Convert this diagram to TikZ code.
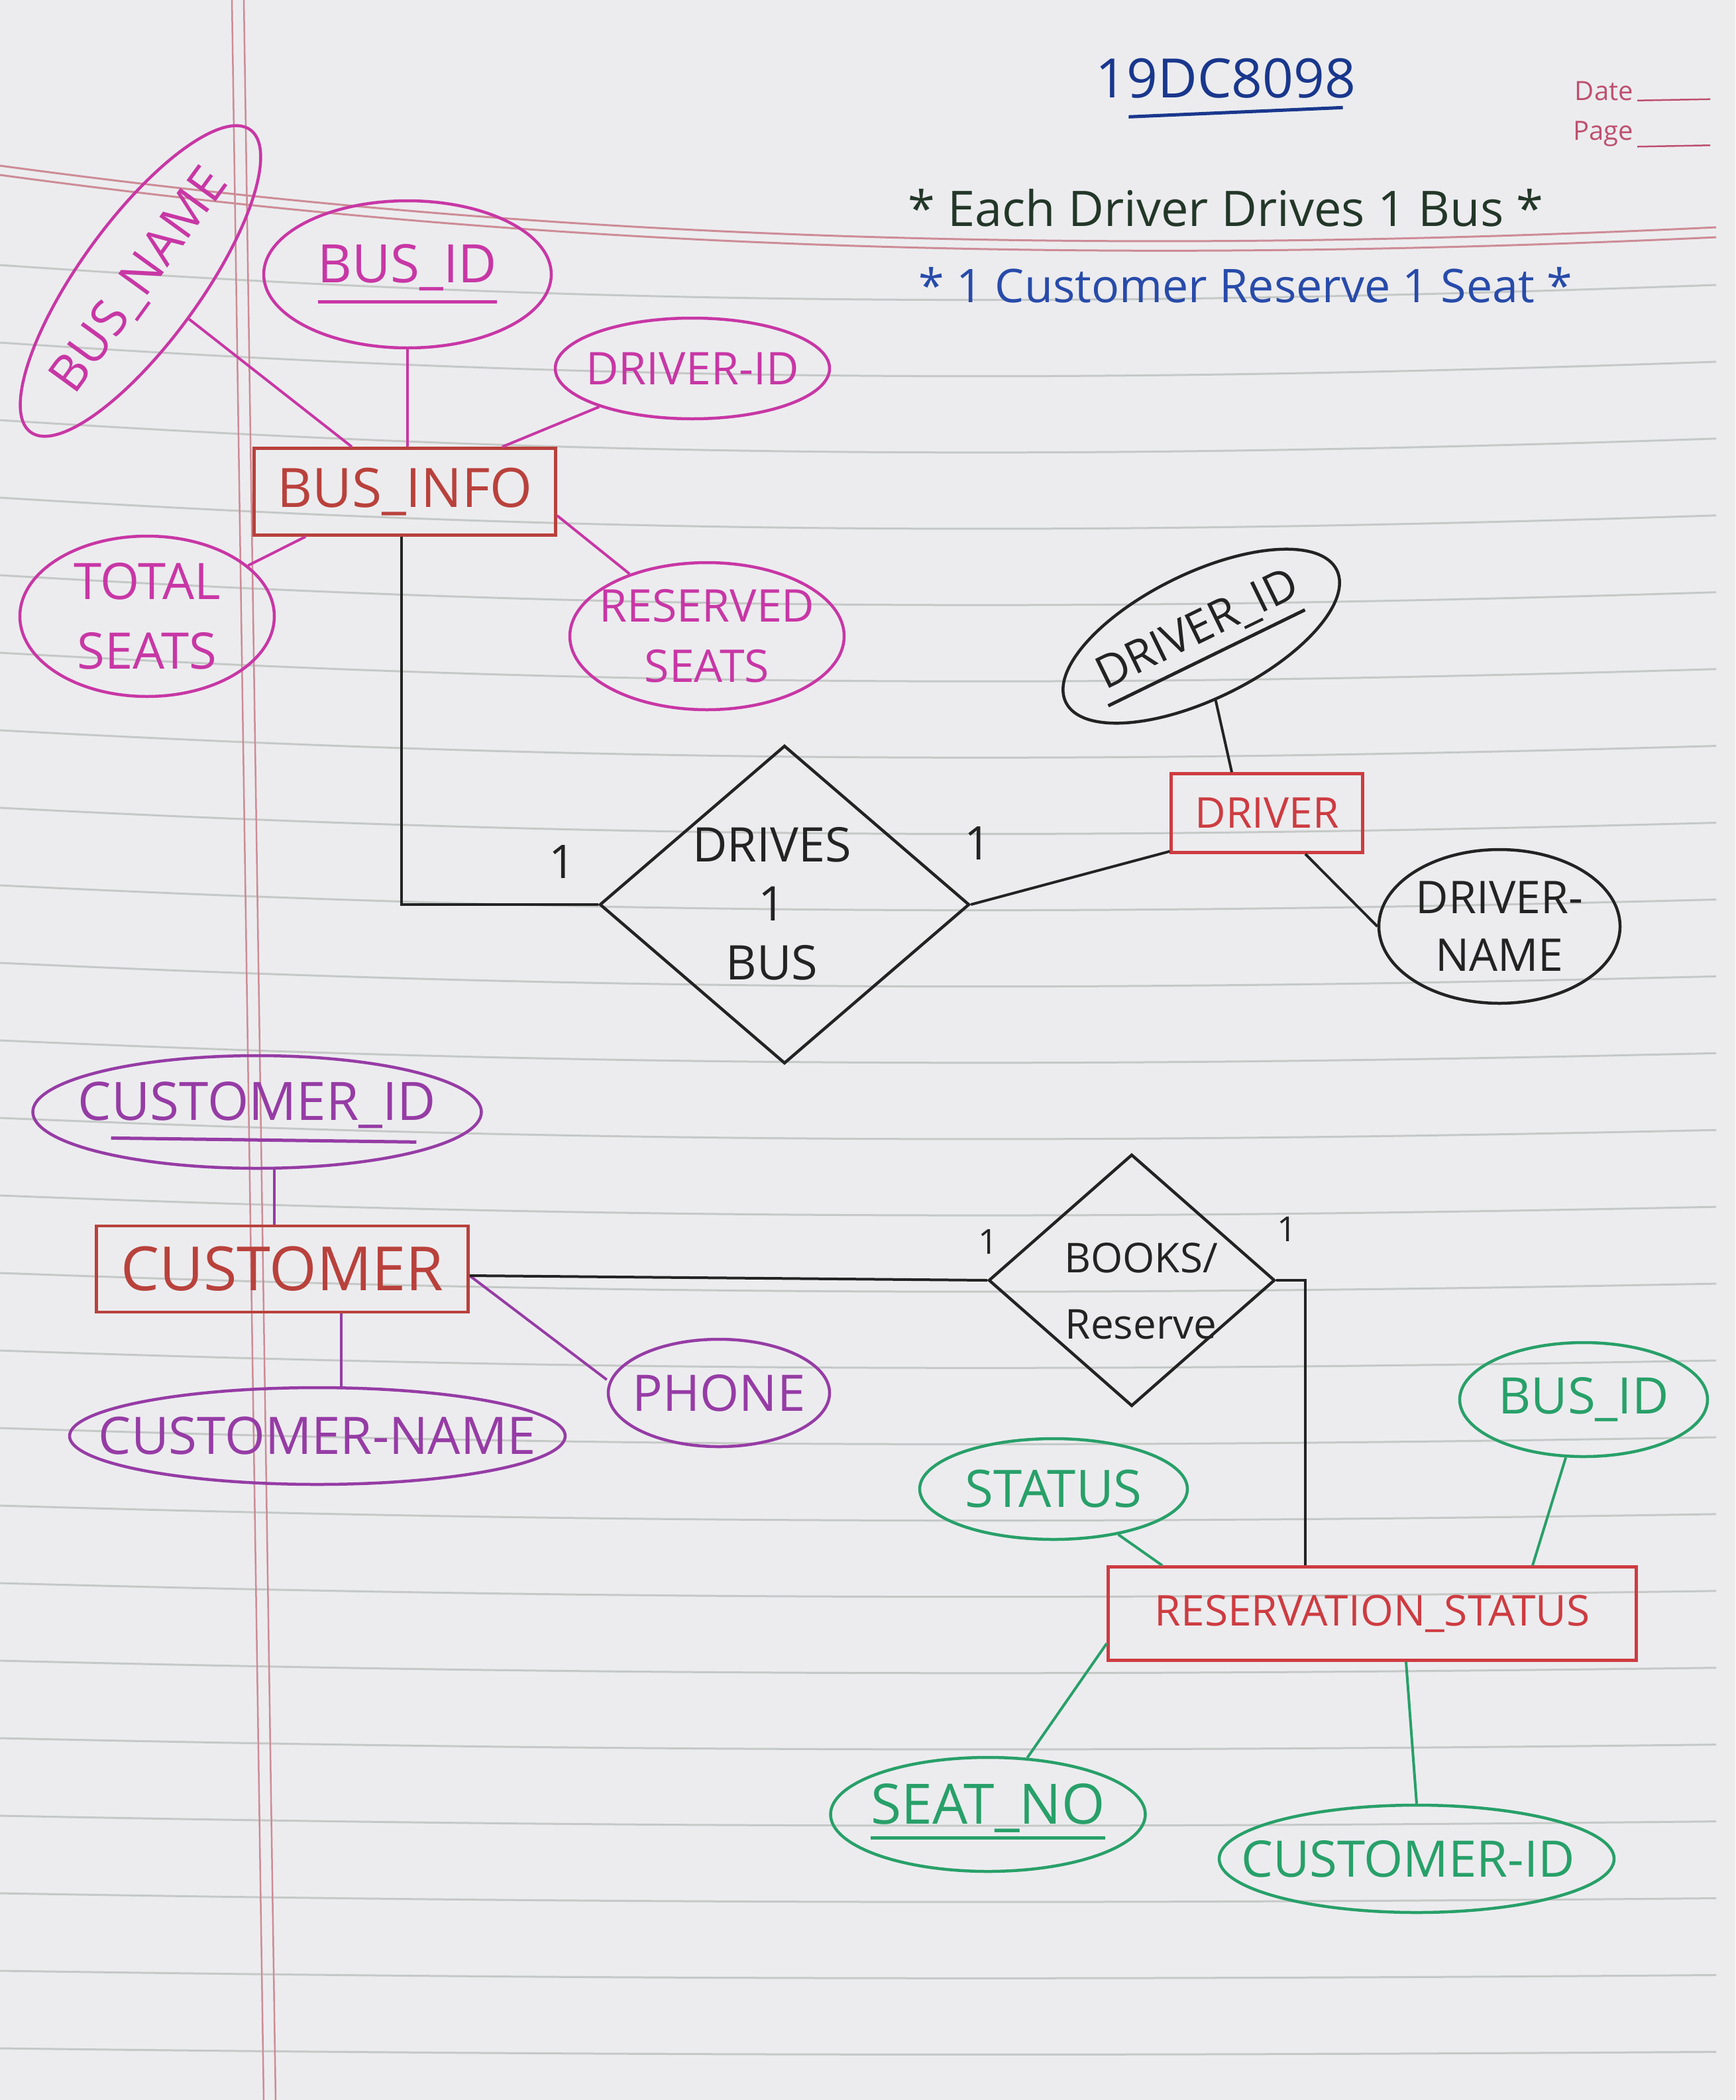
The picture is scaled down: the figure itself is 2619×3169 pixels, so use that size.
\documentclass[tikz,border=0pt]{standalone}
\usepackage{fontspec}
\setmainfont{Open Sans}
\usetikzlibrary{shapes.geometric,calc}
\definecolor{paper}{RGB}{236,236,239}
\definecolor{rulec}{RGB}{150,160,150}
\definecolor{marginc}{RGB}{205,140,150}
\definecolor{printc}{RGB}{190,80,110}
\definecolor{mag}{RGB}{200,55,165}
\definecolor{entc}{RGB}{185,65,60}
\definecolor{entred}{RGB}{205,60,65}
\definecolor{purp}{RGB}{150,60,165}
\definecolor{grn}{RGB}{40,160,105}
\definecolor{ink}{RGB}{35,35,35}
\definecolor{navy}{RGB}{25,55,140}
\definecolor{blu}{RGB}{40,75,170}
\definecolor{dgreen}{RGB}{35,55,40}
\newcommand{\fsz}[2]{\fontsize{#1pt}{#2pt}\selectfont}
\begin{document}
\begin{tikzpicture}[x=1pt,y=-1pt,
  attr/.style={ellipse, draw, line width=4.5pt, inner sep=0pt},
  entbox/.style={rectangle, draw, line width=4.5pt, inner sep=0pt},
  rel/.style={diamond, draw=ink, line width=4.5pt, inner sep=0pt},
  lbl/.style={inner sep=0pt, align=center},
  link/.style={line width=4pt},
  ruling/.style={rulec, line width=3pt, opacity=.45},
  keyline/.style={line width=5pt}]
% paper
\useasboundingbox (0,0) rectangle (2619,3169);
\fill[paper] (0,0) rectangle (2619,3169);
\fill[white!85!gray] (2592,0) rectangle (2619,3169);
\foreach \i in {0,...,23}{
  \pgfmathsetmacro{\yy}{400+\i*117}
  \pgfmathsetmacro{\ff}{1-\i/28}
  \draw[ruling] (0,\yy) .. controls (800,{\yy+55*\ff}) and (1500,{\yy+70*\ff}) .. (2590,{\yy+30*\ff});
}
\draw[marginc, line width=3pt] (0,250) .. controls (700,345) and (1500,395) .. (2590,343);
\draw[marginc, line width=3pt] (0,264) .. controls (700,359) and (1500,409) .. (2590,358);
\draw[marginc, line width=2.5pt] (350,0) -- (398,3169);
\draw[marginc, line width=2.5pt] (368,0) -- (416,3169);
\node[lbl, text=printc, font={\fsz{40}{48}}, anchor=east] (date) at (2465,137) {Date};
\node[lbl, text=printc, font={\fsz{40}{48}}, anchor=east] (page) at (2465,202) {Page};
\draw[printc, line width=2.5pt] ([xshift=6pt]date.south east) -- ++(110pt,2pt);
\draw[printc, line width=2.5pt] ([xshift=6pt]page.south east) -- ++(110pt,2pt);
% header
\node[lbl, text=navy, font={\fsz{82}{98}}] (title) at (1850,118) {19DC8098};
\draw[navy, keyline] ([shift={(50pt,-28pt)}]title.south west) -- ([shift={(-20pt,-14pt)}]title.south east);
\node[lbl, text=dgreen, font={\fsz{74}{88}}] (note1) at (1850,314) {* Each Driver Drives 1 Bus *};
\node[lbl, text=blu, font={\fsz{70}{84}}] (note2) at (1880,430) {* 1 Customer Reserve 1 Seat *};
% ---------------- BUS_INFO ----------------
\node[entbox, draw=entc, text=entc, minimum width=455pt, minimum height=131pt, font={\fsz{82}{98}}] (businfo) at (611,742) {BUS\_INFO};
\node[attr, draw=mag, rotate=54, minimum width=564pt, minimum height=182pt] (busname) at (212,424) {};
\node[lbl, text=mag, rotate=54, font={\fsz{76}{90}}] (busname-t) at (busname) {BUS\_NAME};
\node[attr, draw=mag, minimum width=434pt, minimum height=222pt] (busid) at (615,414) {};
\node[lbl, text=mag, font={\fsz{80}{96}}] (busid-t) at (615,404) {BUS\_ID};
\draw[mag, keyline] ([yshift=-16pt]busid-t.south west) -- ([yshift=-16pt]busid-t.south east);
\node[attr, draw=mag, minimum width=414pt, minimum height=152pt] (drvid1) at (1045,556) {};
\node[lbl, text=mag, font={\fsz{68}{82}}] (drvid1-t) at (drvid1) {DRIVER-ID};
\node[attr, draw=mag, minimum width=384pt, minimum height=242pt] (total) at (222,930) {};
\node[lbl, text=mag, font={\fsz{76}{105}}] (total-t) at (total) {TOTAL\\SEATS};
\node[attr, draw=mag, minimum width=414pt, minimum height=222pt] (reserved) at (1067,960) {};
\node[lbl, text=mag, font={\fsz{68}{91}}] (reserved-t) at (reserved) {RESERVED\\SEATS};
\draw[link, mag] (busname) -- ([xshift=-80pt]businfo.north);
\draw[link, mag] (busid.south) -- (busid.south |- businfo.north);
\draw[link, mag] (drvid1) -- ([xshift=147pt]businfo.north);
\draw[link, mag] ([xshift=80pt]businfo.south west) -- (total);
\draw[link, mag] ([yshift=-36pt]businfo.east) -- (reserved);
% ---------------- DRIVES ----------------
\node[rel, minimum width=558pt, minimum height=480pt] (drives) at (1184,1365) {};
\node[lbl, text=ink, font={\fsz{72}{89}}] (drives-t) at (1165,1364) {DRIVES\\1\\BUS};
\node[entbox, draw=entred, text=entred, minimum width=289pt, minimum height=119pt, font={\fsz{64}{76}}] (driver) at (1912,1227) {DRIVER};
\node[attr, draw=ink, rotate=26, minimum width=455pt, minimum height=190pt] (drvid2) at (1813,960) {};
\node[lbl, text=ink, rotate=26, font={\fsz{68}{82}}] (drvid2-t) at (1808,952) {DRIVER\_ID};
\draw[ink, keyline] ([yshift=-14pt]drvid2-t.south west) -- ([yshift=-14pt]drvid2-t.south east);
\node[attr, draw=ink, minimum width=364pt, minimum height=232pt] (drvname) at (2263,1398) {};
\node[lbl, text=ink, font={\fsz{68}{87}}] (drvname-t) at (drvname) {DRIVER-\\NAME};
\draw[link, ink] ([xshift=-5pt]businfo.south) |- (drives.west);
\draw[link, ink] (drives.east) -- ([yshift=4pt]driver.south west);
\draw[link, ink] (drvid2) -- ([xshift=-53pt]driver.north);
\draw[link, ink] ([xshift=58pt]driver.south) -- (drvname.west);
\node[lbl, text=ink, font={\fsz{70}{84}}] (one1) at (849,1300) {1};
\node[lbl, text=ink, font={\fsz{70}{84}}] (one2) at (1475,1272) {1};
% ---------------- CUSTOMER ----------------
\node[entbox, draw=entc, text=entc, minimum width=561pt, minimum height=130pt, font={\fsz{92}{110}}] (customer) at (426,1915) {CUSTOMER};
\node[attr, draw=purp, minimum width=677pt, minimum height=170pt] (custid) at (388,1678) {};
\node[lbl, text=purp, font={\fsz{80}{96}}] (custid-t) at (388,1668) {CUSTOMER\_ID};
\draw[purp, keyline] ([shift={(50pt,-14pt)}]custid-t.south west) -- ([shift={(-30pt,-20pt)}]custid-t.south east);
\node[attr, draw=purp, minimum width=748pt, minimum height=146pt] (custname) at (479,2167) {};
\node[lbl, text=purp, font={\fsz{78}{94}}] (custname-t) at (custname) {CUSTOMER-NAME};
\node[attr, draw=purp, minimum width=334pt, minimum height=162pt] (phone) at (1085,2102) {};
\node[lbl, text=purp, font={\fsz{76}{90}}] (phone-t) at (phone) {PHONE};
\draw[link, purp] ([xshift=26pt]custid.south) -- ([xshift=-12pt]customer.north);
\draw[link, purp] ([xshift=89pt]customer.south) -- ([xshift=36pt]custname.north);
\draw[link, purp] ([yshift=-10pt]customer.east) -- ([yshift=20pt]phone.west);
% ---------------- BOOKS ----------------
\node[rel, minimum width=432pt, minimum height=380pt] (books) at (1708,1932) {};
\node[lbl, text=ink, font={\fsz{62}{100}}] (books-t) at (1722,1948) {BOOKS/\\Reserve};
\node[entbox, draw=entred, text=entred, minimum width=797pt, minimum height=141pt, font={\fsz{64}{76}}] (resv) at (2071,2435) {RESERVATION\_STATUS};
\draw[link, ink] ([yshift=-10pt]customer.east) -- (books.west);
\draw[link, ink] (books.east) -| ([xshift=-101pt]resv.north);
\node[lbl, text=ink, font={\fsz{52}{62}}] (one3) at (1491,1874) {1};
\node[lbl, text=ink, font={\fsz{52}{62}}] (one4) at (1942,1855) {1};
\node[attr, draw=grn, minimum width=404pt, minimum height=152pt] (status) at (1590,2247) {};
\node[lbl, text=grn, font={\fsz{78}{94}}] (status-t) at (status) {STATUS};
\node[attr, draw=grn, minimum width=374pt, minimum height=172pt] (busid2) at (2390,2112) {};
\node[lbl, text=grn, font={\fsz{76}{90}}] (busid2-t) at (busid2) {BUS\_ID};
\node[attr, draw=grn, minimum width=475pt, minimum height=172pt] (seatno) at (1491,2738) {};
\node[lbl, text=grn, font={\fsz{84}{100}}] (seatno-t) at (1491,2728) {SEAT\_NO};
\draw[grn, keyline] ([yshift=-8pt]seatno-t.south west) -- ([yshift=-8pt]seatno-t.south east);
\node[attr, draw=grn, minimum width=596pt, minimum height=162pt] (custid2) at (2138,2805) {};
\node[lbl, text=grn, font={\fsz{76}{90}}] (custid2-t) at (2125,2805) {CUSTOMER-ID};
\draw[link, grn] (status) -- ([xshift=-317pt]resv.north);
\draw[link, grn] (busid2) -- ([xshift=242pt]resv.north);
\draw[link, grn] (seatno) -- ([yshift=-45pt]resv.west);
\draw[link, grn] ([xshift=51pt]resv.south) -- (custid2.north);
\end{tikzpicture}
\end{document}
